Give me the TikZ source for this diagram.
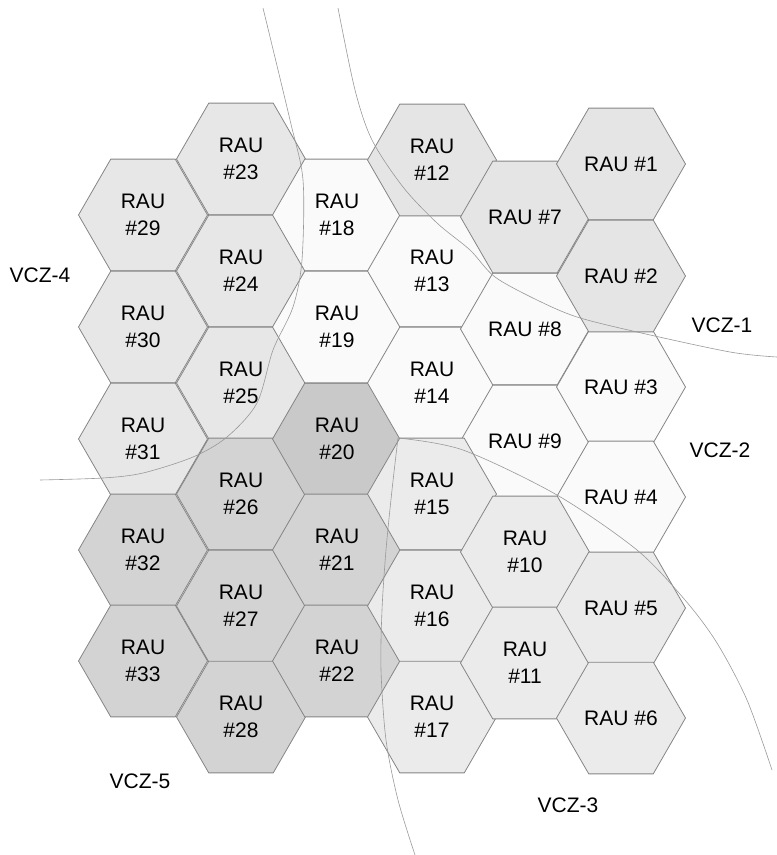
\documentclass[tikz,border=0pt]{standalone}
\usepackage{fontspec}
\setmainfont{Liberation Sans}
\usetikzlibrary{shapes.geometric}
\definecolor{zoneOne}{HTML}{E5E5E5}
\definecolor{zoneTwo}{HTML}{FAFAFA}
\definecolor{zoneThree}{HTML}{EBEBEB}
\definecolor{zoneFour}{HTML}{E7E7E7}
\definecolor{zoneFive}{HTML}{D3D3D3}
\definecolor{zoneCore}{HTML}{C9C9C9}

\begin{document}
\begin{tikzpicture}[
    x=1pt, y=-1pt,
    cell/.style={regular polygon, regular polygon sides=6, draw=black!48, line width=0.8pt,
        minimum size=129pt, inner sep=0pt, align=center, font=\fontsize{21}{27}\selectfont},
    border/.style={draw=black!40, line width=0.6pt},
    zlabel/.style={font=\fontsize{21}{24}\selectfont}
]
    \useasboundingbox (0,0) rectangle (777,855);
    % VCZ-4
    \node[cell, fill=zoneFour] (r29) at (143,215) {RAU\\\#29};
    \node[cell, fill=zoneFour] (r30) at (143,327) {RAU\\\#30};
    \node[cell, fill=zoneFour] (r31) at (143,439) {RAU\\\#31};
    \node[cell, fill=zoneFour] (r23) at (241,159) {RAU\\\#23};
    \node[cell, fill=zoneFour] (r24) at (241,271) {RAU\\\#24};
    \node[cell, fill=zoneFour] (r25) at (241,383) {RAU\\\#25};
    % VCZ-5
    \node[cell, fill=zoneFive] (r32) at (143,550) {RAU\\\#32};
    \node[cell, fill=zoneFive] (r33) at (143,661) {RAU\\\#33};
    \node[cell, fill=zoneFive] (r26) at (241,494) {RAU\\\#26};
    \node[cell, fill=zoneFive] (r27) at (241,606) {RAU\\\#27};
    \node[cell, fill=zoneFive] (r28) at (241,717) {RAU\\\#28};
    \node[cell, fill=zoneCore] (r20) at (337,439) {RAU\\\#20};
    \node[cell, fill=zoneFive] (r21) at (337,550) {RAU\\\#21};
    \node[cell, fill=zoneFive] (r22) at (337,661) {RAU\\\#22};
    % VCZ-2
    \node[cell, fill=zoneTwo] (r18) at (337,215) {RAU\\\#18};
    \node[cell, fill=zoneTwo] (r19) at (337,327) {RAU\\\#19};
    \node[cell, fill=zoneTwo] (r13) at (432,271) {RAU\\\#13};
    \node[cell, fill=zoneTwo] (r14) at (432,383) {RAU\\\#14};
    \node[cell, fill=zoneTwo] (r8) at (525,329) {RAU \#8};
    \node[cell, fill=zoneTwo] (r9) at (525,441) {RAU \#9};
    \node[cell, fill=zoneTwo] (r3) at (621,387) {RAU \#3};
    \node[cell, fill=zoneTwo] (r4) at (621,497) {RAU \#4};
    % VCZ-1
    \node[cell, fill=zoneOne] (r12) at (432,160) {RAU\\\#12};
    \node[cell, fill=zoneOne] (r7) at (525,217) {RAU \#7};
    \node[cell, fill=zoneOne] (r1) at (621,164) {RAU \#1};
    \node[cell, fill=zoneOne] (r2) at (621,276) {RAU \#2};
    % VCZ-3
    \node[cell, fill=zoneThree] (r15) at (432,494) {RAU\\\#15};
    \node[cell, fill=zoneThree] (r16) at (432,606) {RAU\\\#16};
    \node[cell, fill=zoneThree] (r17) at (432,717) {RAU\\\#17};
    \node[cell, fill=zoneThree] (r10) at (525,552) {RAU\\\#10};
    \node[cell, fill=zoneThree] (r11) at (525,663) {RAU\\\#11};
    \node[cell, fill=zoneThree] (r5) at (621,608) {RAU \#5};
    \node[cell, fill=zoneThree] (r6) at (621,718) {RAU \#6};

    % zone borders
    \draw[border] plot[smooth] coordinates {(263,8) (290,120) (303,180) (302,260)
        (293,307) (273,350) (257,403) (227,437) (193,457) (143,473) (103,478) (40,480)};
    \draw[border] plot[smooth] coordinates {(338,8) (355,90) (372,140) (403,187)
        (437,223) (470,250) (495,277) (537,300) (577,317) (637,332) (730,352) (777,357)};
    \draw[border] plot[smooth] coordinates {(398,438) (463,450) (557,495) (637,550)
        (685,600) (717,643) (747,700) (772,770)};
    \draw[border] plot[smooth] coordinates {(398,438) (392,490) (386,550) (382,610)
        (381,670) (386,740) (398,800) (415,855)};

    \node[zlabel] (vcz1) at (722,325) {VCZ-1};
    \node[zlabel] (vcz2) at (720,450) {VCZ-2};
    \node[zlabel] (vcz3) at (568,805) {VCZ-3};
    \node[zlabel] (vcz4) at (40,275) {VCZ-4};
    \node[zlabel] (vcz5) at (140,781) {VCZ-5};
\end{tikzpicture}
\end{document}
